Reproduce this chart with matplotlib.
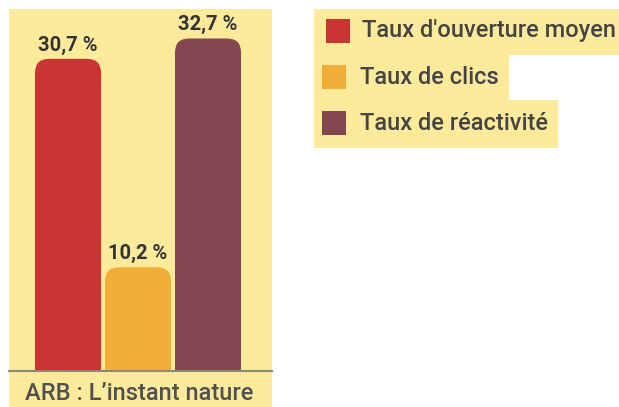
import matplotlib.pyplot as plt
from matplotlib.patches import FancyBboxPatch, Rectangle

categories = ["Taux d'ouverture moyen", "Taux de clics", "Taux de réactivité"]
values = [30.7, 10.2, 32.7]
labels = ["30,7 %", "10,2 %", "32,7 %"]
colors = ["#C93434", "#F0AE37", "#83474F"]
group = "ARB : L\u2019instant nature"

W, H = 619, 407
bg = "#FDEA9B"
plt.rcParams['font.family'] = ['Roboto', 'DejaVu Sans']

fig = plt.figure(figsize=(W / 100, H / 100), dpi=100)

# fond jaune du panneau
fig.patches.append(Rectangle((9 / W, 0), 263 / W, (H - 9) / H, transform=fig.transFigure,
                             facecolor=bg, edgecolor="none", zorder=-5))

ax = fig.add_axes([9 / W, 36 / H, 263 / W, 362 / H])
ax.set_facecolor("none")
ax.set_xlim(-0.843, 2.914)
ax.set_ylim(0, 35.6)
ax.axis("off")

bars = ax.bar(range(3), values, width=0.943, color=colors)
# coins arrondis en haut
aspect = (35.6 / 362) / (3.757 / 263)
r = 14 * 3.757 / 263
for b, c in zip(bars, colors):
    x, w, h = b.get_x(), b.get_width(), b.get_height()
    b.set_visible(False)
    p = FancyBboxPatch((x, -5), w, h + 5, boxstyle="round,pad=0,rounding_size=%f" % r,
                       mutation_aspect=aspect, facecolor=c, edgecolor="none", clip_on=True)
    ax.add_patch(p)

for i, (v, t) in enumerate(zip(values, labels)):
    ax.annotate(t, (i, v), xytext=(0, 3), textcoords="offset points", ha="center", va="bottom",
                fontsize=14.5, fontweight="bold", color="#333333")

ax.axhline(0, color="#8a8a7a", lw=1.5, clip_on=False)
fig.text(139 / W, 1 - 394 / H, group, ha="center", va="center", fontsize=17,
         fontweight=500, color="#505050")

# legende
rows = [31, 77, 123]
sq_x = [326, 322, 322]
txt_x = [362, 360, 360]
tops = [9, 55, 100]
bots = [55, 100, 148]
fig.canvas.draw()
ren = fig.canvas.get_renderer()
for k in range(3):
    t = fig.text(txt_x[k] / W, 1 - rows[k] / H, categories[k], ha="left", va="center",
                 fontsize=17, fontweight=500, color="#444444", zorder=3)
    ext = t.get_window_extent(ren)
    right = min(ext.x1 + 10, W)
    fig.patches.append(Rectangle((314 / W, 1 - bots[k] / H), (right - 314) / W, (bots[k] - tops[k]) / H,
                                 transform=fig.transFigure, facecolor=bg, edgecolor="none", zorder=1))
    fig.patches.append(Rectangle((sq_x[k] / W, 1 - (rows[k] + 12) / H), 24 / W, 24 / H,
                                 transform=fig.transFigure, facecolor=colors[k], edgecolor="none", zorder=2))

fig.savefig("out.png", dpi=100)
